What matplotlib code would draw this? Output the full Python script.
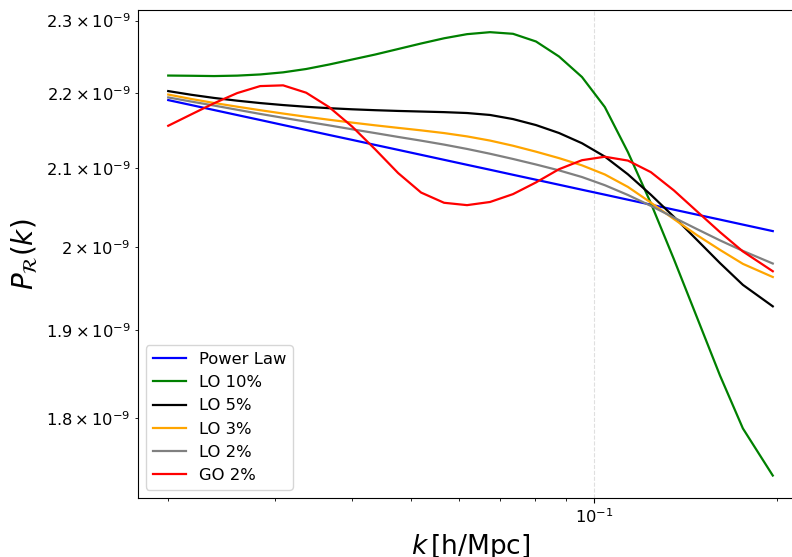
import matplotlib
matplotlib.use("Agg")
import matplotlib.pyplot as plt

k = [0.02000, 0.02182, 0.02379, 0.02596, 0.02831, 0.03088, 0.03369, 0.03675,
     0.04009, 0.04372, 0.04770, 0.05202, 0.05674, 0.06189, 0.06751, 0.07364,
     0.08033, 0.08762, 0.09557, 0.1042, 0.1137, 0.1240, 0.1353, 0.1476,
     0.1610, 0.1756, 0.1966]

power_law = [2.1900, 2.1833, 2.1766, 2.1699, 2.1633, 2.1566, 2.1500, 2.1434,
             2.1369, 2.1303, 2.1238, 2.1173, 2.1108, 2.1043, 2.0979, 2.0914,
             2.0850, 2.0786, 2.0722, 2.0659, 2.0595, 2.0532, 2.0469, 2.0406,
             2.0344, 2.0281, 2.0200]

lo10 = [2.2234, 2.2231, 2.2227, 2.2233, 2.2249, 2.2278, 2.2324, 2.2386,
        2.2455, 2.2524, 2.2601, 2.2678, 2.2751, 2.2809, 2.2837, 2.2814,
        2.2706, 2.2497, 2.2214, 2.1806, 2.1208, 2.0551, 1.9852, 1.9154,
        1.8480, 1.7885, 1.7373]

lo5 = [2.2022, 2.1972, 2.1929, 2.1892, 2.1860, 2.1833, 2.1810, 2.1791,
       2.1776, 2.1764, 2.1754, 2.1746, 2.1738, 2.1726, 2.1700, 2.1645,
       2.1565, 2.1460, 2.1325, 2.1150, 2.0920, 2.0658, 2.0378, 2.0091,
       1.9806, 1.9541, 1.9284]

lo3 = [2.1975, 2.1915, 2.1861, 2.1811, 2.1764, 2.1719, 2.1676, 2.1636,
       2.1598, 2.1562, 2.1528, 2.1495, 2.1459, 2.1415, 2.1360, 2.1292,
       2.1214, 2.1130, 2.1036, 2.0918, 2.0758, 2.0558, 2.0350, 2.0150,
       1.9968, 1.9796, 1.9636]

lo2 = [2.1936, 2.1880, 2.1826, 2.1770, 2.1714, 2.1662, 2.1611, 2.1561,
       2.1509, 2.1459, 2.1408, 2.1359, 2.1307, 2.1250, 2.1187, 2.1119,
       2.1047, 2.0971, 2.0885, 2.0780, 2.0655, 2.0517, 2.0369, 2.0225,
       2.0085, 1.9955, 1.9800]

go2 = [2.1556, 2.1708, 2.1858, 2.1995, 2.2090, 2.2100, 2.2000, 2.1805,
       2.1545, 2.1246, 2.0936, 2.0686, 2.0556, 2.0526, 2.0566, 2.0666,
       2.0816, 2.0986, 2.1103, 2.1148, 2.1098, 2.0948, 2.0713, 2.0448,
       2.0188, 1.9948, 1.9706]

labels = ["Power Law", "LO 10%", "LO 5%", "LO 3%", "LO 2%", "GO 2%"]
colors = ["blue", "green", "black", "orange", "grey", "red"]
series = [power_law, lo10, lo5, lo3, lo2, go2]
scale = 1e-9

fig = plt.figure(figsize=(7.92, 5.57), dpi=100)
ax = fig.add_axes([138/792, 1-497.7/557, (803-138)/792, (497.7-10)/557])

for vals, lab, col in zip(series, labels, colors):
    ax.plot(k, [v*scale for v in vals], color=col, lw=1.6, label=lab)

ax.set_xscale("log")
ax.set_yscale("log")
ax.grid(True, which="major", linestyle="--", alpha=0.4)
ax.tick_params(axis="both", which="both", labelsize=11.7)
ax.set_xlabel(r"$k\,[\mathrm{h/Mpc}]$", fontsize=19)
ax.set_ylabel(r"$P_{\mathcal{R}}(k)$", fontsize=20)
ax.legend(loc="lower left", fontsize=11.8)

fig.savefig("out.png", dpi=100)
